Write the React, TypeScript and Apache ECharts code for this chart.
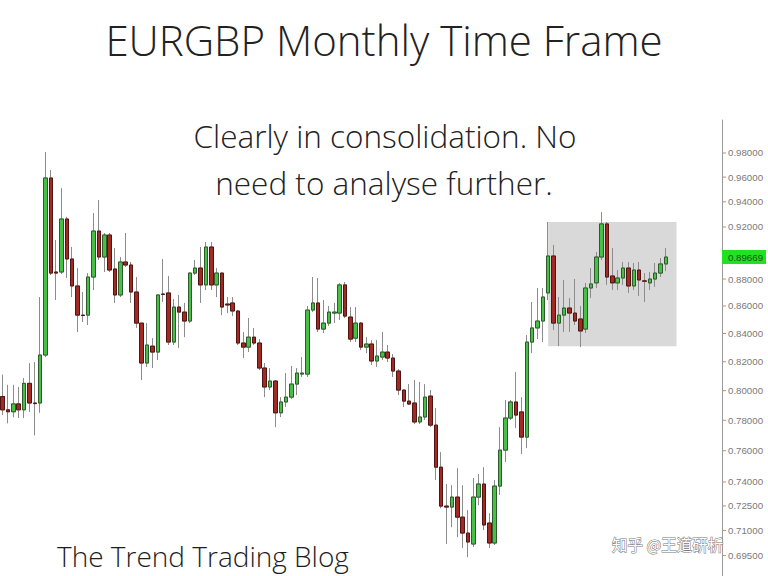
import React, { useEffect, useRef } from "react";
import * as echarts from "echarts";

// ---------- data ----------
const START_YEAR = 2008;
const START_MONTH = 4; // first candle: April 2008
const CATEGORY_COUNT = 135; // monthly slots on the x axis (last ones left empty)
const months: string[] = Array.from({ length: CATEGORY_COUNT }, (_, i) => {
  const m = START_MONTH - 1 + i;
  const y = START_YEAR + Math.floor(m / 12);
  return `${y}-${String((m % 12) + 1).padStart(2, "0")}`;
});

const opens = [
  0.796, 0.787, 0.7857, 0.791, 0.787, 0.805, 0.7916, 0.7916, 0.8247, 0.9593,
  0.8853, 0.8853, 0.9263, 0.8952, 0.8748, 0.8533, 0.8533, 0.8815, 0.9168, 0.8967,
  0.9137, 0.8876, 0.8681, 0.8929, 0.8906, 0.8703, 0.8475, 0.8191, 0.831, 0.8268,
  0.8688, 0.8696, 0.8339, 0.8592, 0.8555, 0.849, 0.8845, 0.8883, 0.8756, 0.9044,
  0.8756, 0.8845, 0.8614, 0.8622, 0.8563, 0.8332, 0.8303, 0.8374, 0.8332, 0.8156,
  0.8025, 0.8066, 0.785, 0.7923, 0.7956, 0.8045, 0.8114, 0.8114, 0.857, 0.8622,
  0.8432, 0.8475, 0.8548, 0.8548, 0.8756, 0.8519, 0.8367, 0.8475, 0.8303, 0.8325,
  0.8205, 0.8233, 0.8268, 0.8226, 0.8135, 0.8004, 0.7929, 0.7916, 0.7789, 0.7822,
  0.7963, 0.7768, 0.7494, 0.7249, 0.7243, 0.7305, 0.7181, 0.7084, 0.7018, 0.7305,
  0.7387, 0.7145, 0.7024, 0.7374, 0.7604, 0.7815, 0.7923, 0.7856, 0.7689, 0.8339,
  0.844, 0.849, 0.8696, 0.8975, 0.8475, 0.8533, 0.8585, 0.8548, 0.8505, 0.8432,
  0.8733, 0.8771, 0.8967, 0.9224, 0.8823, 0.8771, 0.8808, 0.8883, 0.8748, 0.8868,
  0.8786, 0.8771, 0.88, 0.8845, 0.8914,
];
const closes = [
  0.787, 0.7857, 0.791, 0.787, 0.805, 0.7916, 0.7912, 0.8247, 0.9593, 0.8845,
  0.8845, 0.9263, 0.8952, 0.8748, 0.8533, 0.853, 0.8815, 0.9168, 0.8967, 0.9137,
  0.8868, 0.8681, 0.8929, 0.8906, 0.8703, 0.8475, 0.8191, 0.8318, 0.8268, 0.8681,
  0.8685, 0.8339, 0.8592, 0.8555, 0.849, 0.8845, 0.8883, 0.8756, 0.9044, 0.8756,
  0.8845, 0.8592, 0.8607, 0.8563, 0.8332, 0.8303, 0.8374, 0.8332, 0.8156, 0.8025,
  0.8066, 0.785, 0.7923, 0.7956, 0.8045, 0.8121, 0.8121, 0.857, 0.8622, 0.8432,
  0.8475, 0.8555, 0.8555, 0.8756, 0.8526, 0.836, 0.8475, 0.8303, 0.8325, 0.8205,
  0.824, 0.8268, 0.8226, 0.8135, 0.8004, 0.7929, 0.7909, 0.7789, 0.7822, 0.7956,
  0.7768, 0.7494, 0.7249, 0.7243, 0.7305, 0.7181, 0.7084, 0.703, 0.7305, 0.7387,
  0.7133, 0.7024, 0.7374, 0.7604, 0.7815, 0.7923, 0.7835, 0.7689, 0.8339, 0.844,
  0.849, 0.8666, 0.8975, 0.8475, 0.8533, 0.8585, 0.8548, 0.849, 0.8418, 0.8733,
  0.8763, 0.8967, 0.9224, 0.8815, 0.8771, 0.8808, 0.8883, 0.8748, 0.8868, 0.8793,
  0.8784, 0.88, 0.8845, 0.8914, 0.89669,
];
const lows = [
  0.7835, 0.778, 0.782, 0.7815, 0.7815, 0.7856, 0.77, 0.785, 0.8233, 0.883,
  0.8644, 0.8838, 0.8808, 0.8666, 0.8411, 0.8483, 0.8461, 0.8718, 0.8944, 0.8853,
  0.8853, 0.8622, 0.8666, 0.8891, 0.8622, 0.844, 0.8073, 0.8163, 0.8156, 0.8212,
  0.8629, 0.8318, 0.8318, 0.8296, 0.8374, 0.8475, 0.883, 0.8622, 0.8718, 0.8718,
  0.8666, 0.8533, 0.8548, 0.8526, 0.8318, 0.8226, 0.8268, 0.8318, 0.8142, 0.7956,
  0.8004, 0.7755, 0.7822, 0.7889, 0.7943, 0.797, 0.8094, 0.8094, 0.8555, 0.8411,
  0.8404, 0.8454, 0.8475, 0.8497, 0.8512, 0.8339, 0.8339, 0.8282, 0.8261, 0.8177,
  0.8163, 0.8212, 0.8198, 0.8094, 0.797, 0.7889, 0.7902, 0.7775, 0.7775, 0.7802,
  0.7755, 0.7412, 0.7236, 0.7018, 0.712, 0.706, 0.6994, 0.694, 0.7, 0.7255,
  0.7102, 0.6994, 0.7012, 0.7318, 0.7527, 0.7802, 0.7748, 0.7578, 0.7617, 0.8261,
  0.836, 0.8339, 0.8644, 0.8425, 0.831, 0.8411, 0.8411, 0.8461, 0.8303, 0.8404,
  0.8659, 0.8733, 0.8944, 0.8756, 0.8718, 0.8718, 0.8756, 0.8696, 0.8718, 0.8673,
  0.8629, 0.8718, 0.8741, 0.8815, 0.886,
];
const highs = [
  0.811, 0.804, 0.804, 0.8025, 0.8087, 0.819, 0.8198, 0.8666, 0.9808, 0.9659,
  0.9098, 0.951, 0.928, 0.9044, 0.8883, 0.8703, 0.8845, 0.931, 0.9414, 0.9153,
  0.9153, 0.9036, 0.8967, 0.9153, 0.8929, 0.8815, 0.8475, 0.8475, 0.8367, 0.8685,
  0.8952, 0.8823, 0.8651, 0.8681, 0.8622, 0.885, 0.8944, 0.9044, 0.9083, 0.9083,
  0.8883, 0.885, 0.8666, 0.8666, 0.857, 0.8411, 0.8512, 0.844, 0.836, 0.8191,
  0.8156, 0.8073, 0.7956, 0.8121, 0.817, 0.8156, 0.8233, 0.86, 0.8815, 0.8808,
  0.8644, 0.86, 0.8622, 0.8771, 0.8778, 0.8592, 0.8592, 0.8483, 0.8374, 0.8353,
  0.8353, 0.8411, 0.8318, 0.8254, 0.8149, 0.801, 0.8045, 0.8073, 0.8059, 0.8045,
  0.8004, 0.7882, 0.7591, 0.7387, 0.738, 0.7488, 0.738, 0.7224, 0.7425, 0.745,
  0.7494, 0.7206, 0.7412, 0.7755, 0.7936, 0.7936, 0.8128, 0.7956, 0.8389, 0.8629,
  0.8733, 0.8733, 0.9239, 0.906, 0.8666, 0.8793, 0.8659, 0.88, 0.86, 0.8771,
  0.8883, 0.9005, 0.9318, 0.9239, 0.9036, 0.8868, 0.8929, 0.8929, 0.8921, 0.8929,
  0.8845, 0.8853, 0.8921, 0.8959, 0.9036,
];

const yTicks = [0.98, 0.96, 0.94, 0.92, 0.88, 0.86, 0.84, 0.82, 0.8, 0.78, 0.76, 0.74, 0.725, 0.71, 0.695];
const Y_MIN = 0.6829;
const Y_MAX = 1.008;

// consolidation zone
const boxStart = 102;
const boxEnd = 126;
const boxTop = 0.924;
const boxBottom = 0.831;

const TITLE = "EURGBP Monthly Time Frame";
const NOTE_LINE1 = "Clearly in consolidation. No";
const NOTE_LINE2 = "need to analyse further.";
const BRAND = "The Trend Trading Blog";
const WATERMARK = "知乎 @王道研析";

const UP = "#46c146";
const DOWN = "#a32a22";

export default function App() {
  const ref = useRef<HTMLDivElement>(null);

  useEffect(() => {
    if (!ref.current) return;
    const chart = echarts.init(ref.current, undefined, { renderer: "svg" });

    const wickData = opens.map((o, i) => [o, closes[i], lows[i], highs[i]]);
    const bodyData = opens.map((o, i) => [o, closes[i], Math.min(o, closes[i]), Math.max(o, closes[i])]);
    const lastIdx = closes.length - 1;
    const font = '"Open Sans", "Noto Sans", sans-serif';

    const option: any = {
      animation: false,
      backgroundColor: "#ffffff",
      grid: { left: 0, right: 46, top: 120, bottom: 0 },
      xAxis: {
        type: "category",
        data: months,
        boundaryGap: true,
        show: false,
      },
      yAxis: {
        type: "log",
        logBase: 10,
        min: Y_MIN,
        max: Y_MAX,
        position: "right",
        axisLine: { show: true, lineStyle: { color: "#9a9a9a", width: 1 } },
        axisTick: { show: false },
        axisLabel: { show: false },
        splitLine: { show: false },
      },
      series: [
        {
          type: "custom",
          name: "zone",
          z: 1,
          silent: true,
          data: [[boxStart, boxTop, boxEnd, boxBottom]],
          encode: { x: [0, 2], y: [1, 3] },
          renderItem: (params: any, api: any) => {
            const p0 = api.coord([api.value(0), api.value(1)]);
            const p1 = api.coord([api.value(2), api.value(3)]);
            return {
              type: "rect",
              shape: { x: p0[0], y: p0[1], width: p1[0] - p0[0], height: p1[1] - p0[1] },
              style: { fill: "#d9d9d9" },
            };
          },
        },
        {
          type: "candlestick",
          name: "wicks",
          z: 2,
          barWidth: 4,
          silent: true,
          data: wickData,
          itemStyle: {
            color: UP,
            color0: DOWN,
            borderColor: "#8c8c8c",
            borderColor0: "#8c8c8c",
            borderWidth: 1,
          },
        },
        {
          type: "candlestick",
          name: "bodies",
          z: 3,
          barWidth: 4,
          silent: true,
          data: bodyData,
          itemStyle: {
            color: UP,
            color0: DOWN,
            borderColor: "#2e5a2e",
            borderColor0: "#4f1512",
            borderWidth: 1,
          },
        },
        {
          type: "custom",
          name: "ticks",
          z: 5,
          silent: true,
          clip: false,
          data: yTicks.map((v) => [0, v]),
          renderItem: (params: any, api: any) => {
            const v = api.value(1);
            const y = api.coord([0, v])[1];
            const x = params.coordSys.x + params.coordSys.width;
            return {
              type: "group",
              children: [
                { type: "line", shape: { x1: x, y1: y, x2: x + 4, y2: y }, style: { stroke: "#9a9a9a", lineWidth: 1 } },
                {
                  type: "text",
                  x: x + 6,
                  y: y,
                  style: {
                    text: v.toFixed(5),
                    fill: "#7a7a7a",
                    font: '9.7px "Liberation Sans", Arial, sans-serif',
                    align: "left",
                    verticalAlign: "middle",
                  },
                },
              ],
            };
          },
        },
        {
          type: "custom",
          name: "price",
          z: 6,
          silent: true,
          clip: false,
          data: [[lastIdx, closes[lastIdx]]],
          renderItem: (params: any, api: any) => {
            const v = api.value(1);
            const y = api.coord([0, v])[1];
            const x = params.coordSys.x + params.coordSys.width;
            return {
              type: "group",
              children: [
                { type: "rect", shape: { x: x, y: y - 7, width: 44, height: 14 }, style: { fill: "#22e022" } },
                {
                  type: "text",
                  x: x + 6,
                  y: y,
                  style: {
                    text: v.toFixed(5),
                    fill: "#0d5a0d",
                    font: '9.7px "Liberation Sans", Arial, sans-serif',
                    align: "left",
                    verticalAlign: "middle",
                  },
                },
              ],
            };
          },
        },
      ],
      graphic: [
        {
          type: "text",
          x: 384,
          y: 39,
          style: { text: TITLE, font: `300 42px ${font}`, fill: "#222222", align: "center", verticalAlign: "middle" },
        },
        {
          type: "text",
          x: 385,
          y: 135,
          style: { text: NOTE_LINE1, font: `300 31.5px ${font}`, fill: "#222222", align: "center", verticalAlign: "middle" },
        },
        {
          type: "text",
          x: 384,
          y: 182,
          style: { text: NOTE_LINE2, font: `300 31.5px ${font}`, fill: "#222222", align: "center", verticalAlign: "middle" },
        },
        {
          type: "text",
          x: 57,
          y: 556,
          style: { text: BRAND, font: `300 28px ${font}`, fill: "#1e1e1e", align: "left", verticalAlign: "middle" },
        },
        {
          type: "text",
          x: 612,
          y: 544,
          z: 20,
          style: {
            text: WATERMARK,
            font: '15.5px "Noto Sans CJK SC", sans-serif',
            fill: "#ffffff",
            stroke: "#777777",
            lineWidth: 1,
            align: "left",
            verticalAlign: "middle",
          },
        },
      ],
    };

    chart.setOption(option);
    return () => chart.dispose();
  }, []);

  return (
    <div
      ref={ref}
      style={{ position: "absolute", left: 0, top: 0, width: 768, height: 576, background: "#ffffff" }}
    />
  );
}
